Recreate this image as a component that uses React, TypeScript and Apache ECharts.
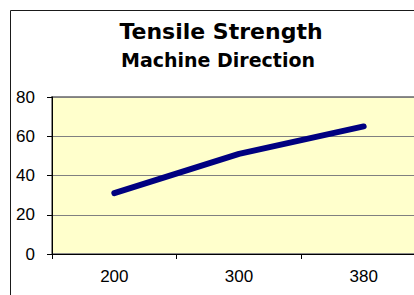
import React, { useEffect, useRef } from "react";
import * as echarts from "echarts";

const categories = ["200", "300", "380"];
const strengthValues = [31, 51, 65];
const yTicks = [0, 20, 40, 60, 80];
const titleText = "Tensile Strength";
const subtitleText = "Machine Direction";

export default function App() {
  const ref = useRef<HTMLDivElement>(null);
  useEffect(() => {
    if (!ref.current) return;
    const chart = echarts.init(ref.current, null, { renderer: "svg" });
    chart.setOption({
      animation: false,
      backgroundColor: "#ffffff",
      graphic: [
        {
          type: "rect",
          shape: { x: 10.5, y: 10.5, width: 440, height: 310 },
          style: { fill: "none", stroke: "#1a1a1a", lineWidth: 1 },
          z: 0,
        },
        {
          type: "text",
          x: 221,
          y: 31,
          style: {
            text: titleText,
            font: "bold 22px 'DejaVu Sans'",
            fill: "#000",
            align: "center",
            verticalAlign: "middle",
          },
        },
        {
          type: "text",
          x: 218,
          y: 60,
          style: {
            text: subtitleText,
            font: "bold 19px 'DejaVu Sans'",
            fill: "#000",
            align: "center",
            verticalAlign: "middle",
          },
        },
      ],
      grid: {
        show: true,
        left: 52,
        top: 97,
        bottom: 41,
        right: 14,
        backgroundColor: "#FFFFCC",
        borderColor: "#8c8c8c",
        borderWidth: 2,
      },
      xAxis: {
        type: "category",
        data: categories,
        boundaryGap: true,
        axisLine: { show: true, lineStyle: { color: "#000", width: 1 } },
        axisTick: { show: true, inside: false, length: 5, lineStyle: { color: "#000" } },
        axisLabel: {
          margin: 14,
          fontFamily: "'Liberation Sans', Arial",
          fontSize: 17,
          color: "#000",
        },
        splitLine: { show: false },
      },
      yAxis: {
        type: "value",
        min: yTicks[0],
        max: yTicks[yTicks.length - 1],
        interval: 20,
        axisLine: { show: true, lineStyle: { color: "#000", width: 1 } },
        axisTick: { show: true, inside: false, length: 5, lineStyle: { color: "#000" } },
        axisLabel: {
          margin: 17,
          fontFamily: "'Liberation Sans', Arial",
          fontSize: 17,
          color: "#000",
        },
        splitLine: { show: true, lineStyle: { color: "#808080", width: 1 } },
      },
      series: [
        {
          type: "line",
          data: strengthValues,
          symbol: "none",
          lineStyle: { color: "#000080", width: 6, cap: "round", join: "round" },
        },
      ],
    });
    return () => chart.dispose();
  }, []);
  return (
    <div
      style={{
        position: "absolute",
        left: 0,
        top: 0,
        width: 414,
        height: 295,
        overflow: "hidden",
      }}
    >
      <div ref={ref} style={{ width: 440, height: 295 }} />
    </div>
  );
}
